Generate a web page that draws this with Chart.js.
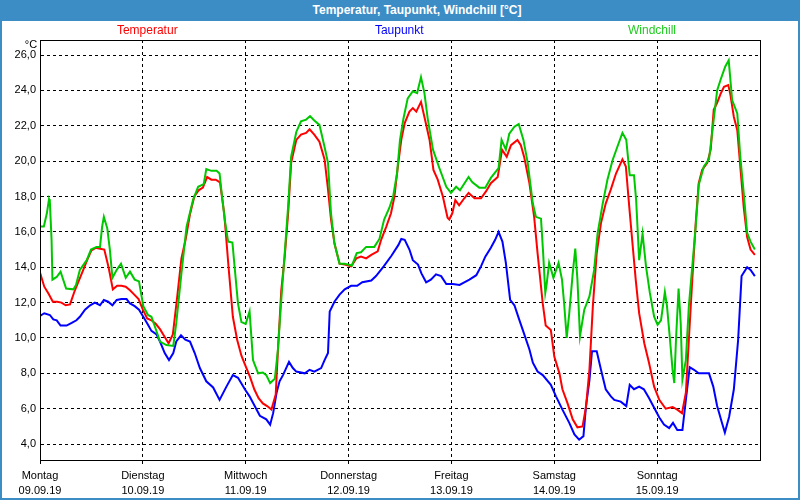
<!DOCTYPE html>
<html>
<head>
<meta charset="utf-8">
<script src="https://cdn.jsdelivr.net/npm/chart.js@4.4.0/dist/chart.umd.min.js"></script>
<style>
  body { margin: 0; background: #fff; }
  #wrap { position: relative; width: 800px; height: 500px; overflow: hidden; }
  #chart { position: absolute; left: 0; top: 0; }
  #bar { position: absolute; left: 0; top: 0; width: 800px; height: 21px; background: #3c8dc5; }
  #bar span { position: absolute; left: 417px; top: 0; transform: translateX(-50%); white-space: nowrap;
    color: #fff; font: bold 12px "Liberation Sans", Arial, sans-serif; line-height: 21px; }
  .edge { position: absolute; background: #3c8dc5; }
</style>
</head>
<body>
<div id="wrap">
  <canvas id="chart" width="800" height="500"></canvas>
  <div id="bar"><span>Temperatur, Taupunkt, Windchill [°C]</span></div>
  <div class="edge" style="left:0;top:0;width:2px;height:500px"></div>
  <div class="edge" style="right:0;top:0;width:2px;height:500px"></div>
  <div class="edge" style="left:0;bottom:0;width:800px;height:2px"></div>
</div>
<script>
'use strict';
// x values are hours since Monday 00:00
var dayNames = ['Montag', 'Dienstag', 'Mittwoch', 'Donnerstag', 'Freitag', 'Samstag', 'Sonntag'];
var dayDates = ['09.09.19', '10.09.19', '11.09.19', '12.09.19', '13.09.19', '14.09.19', '15.09.19'];
var dayTicks = [0, 24, 48, 72, 96, 120, 144];
var yTicks = [4, 6, 8, 10, 12, 14, 16, 18, 20, 22, 24, 26];
var seriesNames = ['Temperatur', 'Taupunkt', 'Windchill'];

var tempHours = [0,1,2,3,4,5,6,7,8,9,10,11,12,13,14,15,16,17,18,19,20,21,22,23,24,25,26,27,28,29,30,31,32,33,34,35,36,37,38,39,40,41,42,43,44,45,46,47,48,49,50,51,52,53,54,55,
  55.5,56.3,57.1,57.9,58.6,59.8,60.9,62.1,62.9,64,65.2,66.4,67.2,67.9,68.7,69.9,71.1,72.6,73.8,74.9,76.1,77.3,78.8,79.6,80.8,81.9,82.7,83.5,84.3,85.1,86.2,87,87.8,88.9,89.7,
  90.9,91.8,92.8,94,95.1,95.5,96.2,96.9,97.8,99,100,101.4,102.9,104.1,105.2,106.8,107.2,107.8,108.9,109.9,111.4,112.2,113,114.2,115.3,116.1,117.3,118,119.2,120,121.2,121.9,
  123.1,124.3,125.4,126.6,127.4,128.2,129,129.9,130.9,132,133.2,134.4,135.9,136.7,137.5,138.3,139,139.8,141,142.1,143.3,144.5,146,147.6,148.7,149.8,150.7,151.4,152.2,153,
  153.7,154.5,155.7,156.5,157.2,158,158.8,159.6,160.6,161.1,161.9,162.7,163.4,164.2,165,165.8,166.8];
var tempValues = [13.7,12.9,12.5,12.05,12.05,12.0,11.85,11.9,12.6,13.2,13.8,14.4,14.95,15.1,15.05,15.0,14.0,12.75,12.95,12.95,12.9,12.7,12.45,12.2,11.6,11.1,11.0,10.8,10.5,10.1,
  9.7,10.2,12.3,14.5,15.6,17.0,18.0,18.35,18.5,19.1,18.95,18.95,18.8,17.0,14.0,11.2,9.9,9.0,8.4,7.8,7.1,6.6,6.3,6.15,5.95,6.8,
  9.2,12.7,14.6,17.05,19.9,21.2,21.5,21.6,21.8,21.5,21.1,20.1,18.4,16.7,15.35,14.2,14.15,14.05,14.5,14.6,14.5,14.7,14.9,15.55,16.3,17.05,18.0,19.7,21.2,22.15,22.8,23.0,22.8,23.35,22.5,
  21.2,19.5,18.95,18.0,16.8,16.7,17.05,17.8,17.5,17.9,18.2,17.9,17.9,18.3,18.75,19.1,19.7,20.65,20.25,20.9,21.2,20.9,20.2,18.75,16.85,14.8,11.97,10.7,10.45,8.95,8.0,7.1,
  6.3,5.4,4.95,5.0,6.1,8.2,11.8,14.8,16.5,17.6,18.4,19.3,20.1,19.7,17.4,15.2,13.3,11.4,9.7,8.6,7.25,6.5,6.0,6.1,5.95,5.75,6.9,9.9,13.3,16.5,
  18.75,19.5,19.9,20.65,22.9,23.3,23.8,24.2,24.3,23.75,22.5,21.75,19.7,17.4,15.7,15.0,14.7];

var dewHours = [0,1,2.3,3.1,3.9,4.8,6.2,7.4,8.5,9.3,10.5,11.7,12.8,14,14.9,15.9,16.9,17.9,19,20.2,21,22.1,23.1,24.1,25.2,26,27.2,28,29.1,30.1,31.1,31.8,32.9,33.9,35,36.1,37.3,
  38.8,40.4,41.9,43.5,45,46.2,47.8,48.9,50.1,51.3,52.8,53.7,54.4,55.2,55.9,56.7,58.1,59,59.8,61.8,62.9,64,65.6,66.4,67.2,67.6,68.7,69.9,71.1,72.6,74,75.2,77.3,78.4,80.2,82,
  83.6,84.3,85.1,86.2,87,88.2,89,90.1,91.2,92.4,93.6,94.8,96.3,97.9,99,100.2,101.8,102.9,103.9,105.2,106.2,107,107.9,108.7,109.7,110.7,111.8,113,114.2,115,116.1,117.3,119.2,
  120.4,121.9,123.5,124.7,125.8,126.8,127.4,128.2,128.8,129.9,130.9,132,133.2,134,135.5,136.8,137.6,138.6,139.8,140.9,142.1,143.3,144.5,145.6,146.8,147.7,148.7,149.9,150.7,
  151.6,152.6,153.7,156.1,157.1,158,159,159.8,160.8,161.9,162.9,163.7,165,165.8,166.8];
var dewValues = [11.25,11.4,11.3,11.05,11.0,10.7,10.7,10.85,11.0,11.2,11.6,11.85,12.0,11.85,12.15,12.05,11.85,12.15,12.2,12.2,11.95,11.8,11.6,11.2,10.75,10.4,10.2,9.8,9.15,8.75,9.15,9.8,10.15,9.9,9.8,9.15,8.3,
  7.55,7.2,6.5,7.25,7.9,7.75,7.1,6.7,6.15,5.6,5.4,5.1,5.75,6.9,7.55,7.9,8.65,8.3,8.1,8.0,8.2,8.1,8.3,8.75,9.15,11.5,12.05,12.45,12.75,12.95,12.95,13.15,13.25,13.5,14.05,14.65,
  15.25,15.6,15.55,15.0,14.4,14.15,13.65,13.15,13.3,13.6,13.5,13.05,13.05,13.0,13.15,13.3,13.55,14.05,14.6,15.1,15.55,16.0,15.45,14.25,12.15,11.85,11.05,10.2,9.35,8.6,8.1,7.9,7.35,
  6.7,5.95,5.2,4.55,4.25,4.45,6.15,7.6,9.25,9.25,8.2,7.1,6.7,6.5,6.4,6.15,7.35,7.1,7.25,7.1,6.6,6.05,5.5,5.1,4.9,5.2,4.8,4.8,6.5,
  8.35,8.2,8.0,8.0,7.25,6.15,5.3,4.65,5.55,7.1,9.9,13.5,14.0,13.85,13.5];

var chillHours = [0,0.9,1.6,2.1,2.3,2.7,2.9,3.9,4.8,6.1,7.8,8.4,9.3,10.9,11.9,13.2,14,14.5,14.9,15.7,16.3,16.9,17.9,18.9,20,21,22.1,23.1,24.1,25.2,26,26.8,28,29.5,31.1,31.8,33,
  34.2,35.7,36.9,38.2,38.8,40,41.2,41.9,42.3,43.1,43.9,44.9,45.4,46.2,47,48,48.9,49.7,50.9,52,52.8,53.7,54.8,55.5,56.3,57.1,57.9,58.6,59.8,60.9,62.1,63,64,65.2,66.4,67.2,67.9,
  68.7,69.9,71.1,72.8,73.9,74.9,76.1,78,79.2,80.3,81.5,82.4,83.3,84,84.8,85.8,87,88,88.9,89.7,90.5,91.7,93.2,94.8,95.9,97.1,98,100,100.9,102.5,103.9,105.2,107,107.7,108.7,
  109.5,110.7,111.7,112.8,113.8,115,115.7,116.9,117.4,117.9,118.2,118.8,119.8,121,121.8,122.3,122.9,123.5,124.3,124.9,125.4,126,127,128.2,129.3,130.1,131.3,132.4,133.6,134.7,
  135.9,136.8,137.6,138.6,139.1,139.8,140.6,141.4,142.3,143.3,144.1,144.9,145.8,146.3,147,147.6,148,148.4,149,149.5,149.9,150.7,151.4,152.2,153,153.7,154.9,156.1,157.2,158,
  158.8,159.9,160.7,161.5,162.7,163.4,164.2,165,165.8,166.8];
var chillValues = [16.3,16.3,17.05,17.85,17.7,15.55,13.3,13.45,13.75,12.8,12.75,13.0,13.85,14.4,15.0,15.15,15.15,16.3,16.85,16.2,15.0,13.4,13.85,14.2,13.4,13.75,13.3,13.2,11.8,11.3,11.2,10.65,9.8,9.6,9.55,10.85,13.65,
  16.3,17.8,18.55,18.7,19.55,19.45,19.45,19.3,18.4,16.7,15.45,15.4,14.05,11.95,10.9,10.8,11.5,8.75,8.0,8.05,7.9,7.45,7.7,9.3,12.15,14.8,17.45,20.25,21.65,22.25,22.35,22.55,22.3,22.05,20.8,19.9,17.05,
  15.35,14.2,14.2,14.1,14.8,14.85,15.15,15.15,15.6,16.7,17.35,18.0,19.3,21.2,22.4,23.55,23.95,23.85,24.75,23.85,22.35,20.65,19.6,18.55,18.2,18.55,18.35,19.1,18.8,18.5,18.5,19.05,19.6,21.2,20.65,
  21.55,21.95,22.1,21.2,19.9,17.6,16.85,16.75,14.8,12.55,13.0,14.25,13.4,14.25,13.3,11.95,10.0,11.4,13.65,15.05,13.3,10.1,11.6,12.35,13.85,15.9,17.6,18.95,20.05,20.8,
  21.6,21.2,19.2,19.2,17.8,14.4,15.9,14.05,12.55,11.2,10.75,11.0,12.6,11.8,9.9,8.2,7.45,9.9,12.8,10.85,7.65,8.75,11.8,14.05,16.3,18.65,19.7,20.1,22.35,24.0,
  24.6,25.35,25.7,23.45,22.7,20.25,18.2,15.95,15.45,15.0];

var lineColors = ['#ff0000', '#0000ff', '#00c800'];
var labelColors = ['#ff0000', '#0000ff', '#22cc22'];

function toPoints(xs, ys) {
  var pts = [];
  for (var i = 0; i < xs.length; i++) {
    pts.push({ x: xs[i], y: ys[i] });
  }
  return pts;
}

function fmt(v) {
  return v.toFixed(1).replace('.', ',');
}

// frame round the plot, series names on top and the unit
var decorPlugin = {
  id: 'decor',
  afterDraw: function(chart) {
    var ctx = chart.ctx;
    var a = chart.chartArea;
    ctx.save();
    ctx.strokeStyle = '#000';
    ctx.lineWidth = 1;
    ctx.strokeRect(Math.floor(a.left) + 0.5, Math.floor(a.top) + 0.5, a.right - a.left, a.bottom - a.top);
    ctx.font = '12px "Liberation Sans", Arial, sans-serif';
    ctx.textAlign = 'center';
    ctx.textBaseline = 'middle';
    var spots = [0.149, 0.499, 0.85];
    for (var i = 0; i < seriesNames.length; i++) {
      ctx.fillStyle = labelColors[i];
      ctx.fillText(seriesNames[i], a.left + (a.right - a.left) * spots[i], 31);
    }
    ctx.fillStyle = '#000';
    ctx.font = '11px "Liberation Sans", Arial, sans-serif';
    ctx.fillText('°C', 31, 45);
    ctx.restore();
  }
};

var tickFont = { family: '"Liberation Sans", Arial, sans-serif', size: 11, lineHeight: 1.35 };

new Chart(document.getElementById('chart').getContext('2d'), {
  type: 'line',
  data: {
    datasets: [
      { label: seriesNames[2], data: toPoints(chillHours, chillValues), borderColor: lineColors[2] },
      { label: seriesNames[0], data: toPoints(tempHours, tempValues), borderColor: lineColors[0] },
      { label: seriesNames[1], data: toPoints(dewHours, dewValues), borderColor: lineColors[1] }
    ]
  },
  options: {
    responsive: false,
    animation: false,
    datasets: { line: { borderWidth: 2, pointRadius: 0, tension: 0, fill: false } },
    layout: { padding: { left: 0, top: 40, right: 40, bottom: 0 } },
    plugins: { legend: { display: false }, tooltip: { enabled: false } },
    scales: {
      x: {
        type: 'linear',
        min: 0,
        max: 168,
        afterBuildTicks: function(axis) { axis.ticks = dayTicks.map(function(v) { return { value: v }; }); },
        afterFit: function(axis) { axis.height = 40; },
        ticks: {
          autoSkip: false, maxRotation: 0, padding: 5, color: '#000', font: tickFont,
          callback: function(v) { var i = Math.round(v / 24); return [dayNames[i], dayDates[i]]; }
        },
        grid: { color: '#000', lineWidth: 1, drawTicks: true, tickLength: 4, tickColor: '#000' },
        border: { display: true, color: '#000', width: 1, dash: [3, 3] }
      },
      y: {
        min: 3.1,
        max: 26.85,
        afterBuildTicks: function(axis) { axis.ticks = yTicks.map(function(v) { return { value: v }; }); },
        afterFit: function(axis) { axis.width = 40; },
        ticks: { padding: 4, color: '#000', font: tickFont, callback: function(v) { return fmt(v); } },
        grid: { color: '#000', lineWidth: 1, drawTicks: false },
        border: { display: true, color: '#000', width: 1, dash: [3, 3] }
      }
    }
  },
  plugins: [decorPlugin]
});
</script>
</body>
</html>
